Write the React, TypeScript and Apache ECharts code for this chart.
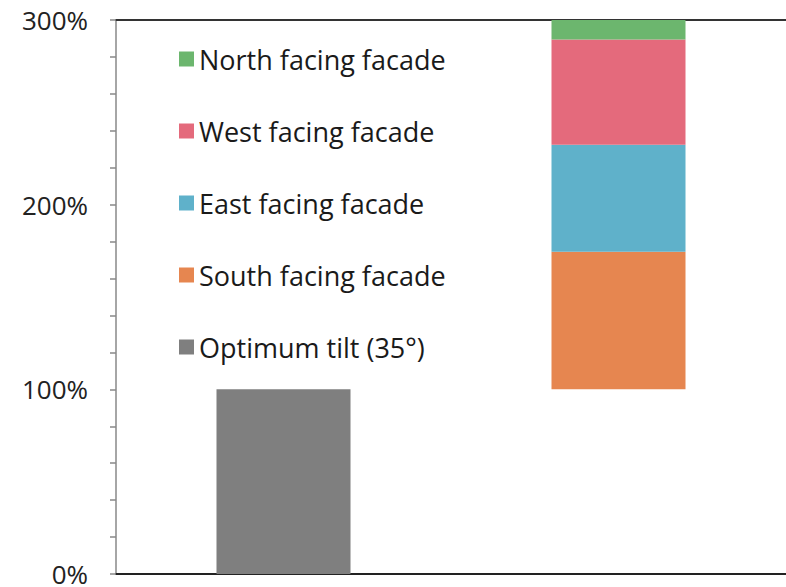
import React, { useEffect, useRef } from "react";
import * as echarts from "echarts";

const categories = ["Optimum tilt", "Facades"];
const optimumTilt = [100, "-"];
const baseOffset = ["-", 100];
const southFacade = ["-", 74.5];
const eastFacade = ["-", 58];
const westFacade = ["-", 57];
const northFacade = ["-", 10.5];
const legendOrder = [
  "North facing facade",
  "West facing facade",
  "East facing facade",
  "South facing facade",
  "Optimum tilt (35°)",
];

const FONT = "Open Sans";

export default function App() {
  const ref = useRef<HTMLDivElement>(null);
  useEffect(() => {
    if (!ref.current) return;
    const chart = echarts.init(ref.current, undefined, { renderer: "svg" });
    const bar = (name: string, data: any[], color: string) => ({
      name,
      type: "bar",
      stack: "a",
      data,
      barWidth: 134,
      itemStyle: { color },
    });
    chart.setOption({
      animation: false,
      backgroundColor: "#ffffff",
      grid: { left: 116, top: 20, width: 675, height: 555 },
      legend: {
        data: legendOrder,
        orient: "vertical",
        left: 174,
        top: 39,
        itemWidth: 15,
        itemHeight: 15,
        itemGap: 42,
        icon: "rect",
        textStyle: {
          fontFamily: FONT,
          fontSize: 27,
          color: "#1a1a1a",
          lineHeight: 30,
        },
      },
      xAxis: [
        {
          type: "category",
          data: categories,
          axisLine: { show: true, lineStyle: { color: "#222", width: 2 } },
          axisTick: { show: false },
          axisLabel: { show: false },
        },
        {
          type: "category",
          position: "top",
          data: categories,
          axisLine: { show: true, lineStyle: { color: "#333", width: 2 } },
          axisTick: { show: false },
          axisLabel: { show: false },
        },
      ],
      yAxis: {
        type: "value",
        min: 0,
        max: 300,
        interval: 100,
        axisLine: { show: true, lineStyle: { color: "#888", width: 1.5 } },
        axisTick: { show: true, inside: false, length: 6, lineStyle: { color: "#888", width: 1.5 } },
        minorTick: { show: true, splitNumber: 5, length: 6, lineStyle: { color: "#888", width: 1.5 } },
        splitLine: { show: false },
        axisLabel: {
          formatter: "{value}%",
          fontFamily: FONT,
          fontSize: 26,
          lineHeight: 20,
          color: "#222",
          margin: 28,
        },
      },
      series: [
        bar("Optimum tilt (35°)", optimumTilt, "#7f7f7f"),
        { ...bar("base", baseOffset, "rgba(0,0,0,0)"), silent: true },
        bar("South facing facade", southFacade, "#e68650"),
        bar("East facing facade", eastFacade, "#5fb1ca"),
        bar("West facing facade", westFacade, "#e46a7c"),
        bar("North facing facade", northFacade, "#6cb66e"),
      ],
    });
    return () => chart.dispose();
  }, []);
  return (
    <div
      ref={ref}
      style={{ position: "fixed", left: 0, top: 0, width: 786, height: 587 }}
    />
  );
}
